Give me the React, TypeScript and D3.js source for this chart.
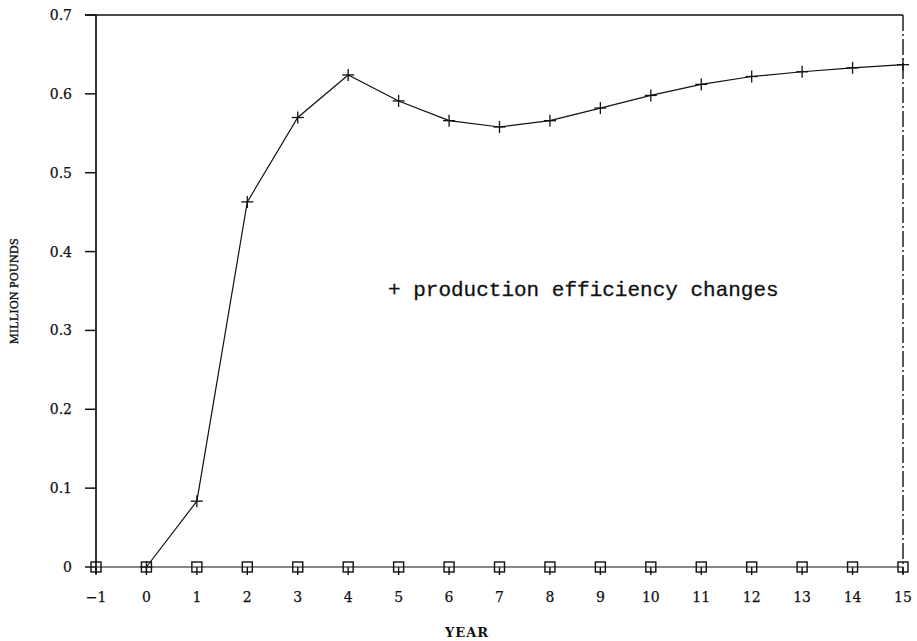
import React from "react";
import * as d3 from "d3";

const years = [-1, 0, 1, 2, 3, 4, 5, 6, 7, 8, 9, 10, 11, 12, 13, 14, 15];
const plusYears = [0, 1, 2, 3, 4, 5, 6, 7, 8, 9, 10, 11, 12, 13, 14, 15];
const plusValues = [0, 0.0835, 0.463, 0.57, 0.624, 0.591, 0.566, 0.558, 0.566, 0.582, 0.598, 0.612, 0.622, 0.628, 0.633, 0.637];
const squareValues = [0, 0, 0, 0, 0, 0, 0, 0, 0, 0, 0, 0, 0, 0, 0, 0, 0];
const yTicks = [0, 0.1, 0.2, 0.3, 0.4, 0.5, 0.6, 0.7];
const yTickLabels = ["0", "0.1", "0.2", "0.3", "0.4", "0.5", "0.6", "0.7"];
const legendText = "+ production efficiency changes";
const yTitle = "MILLION POUNDS";
const xTitle = "YEAR";

export default function App() {
  const W = 917, H = 641;
  const left = 96, right = 903, top = 15, bottom = 567;
  const x = d3.scaleLinear().domain([-1, 15]).range([left, right]);
  const y = d3.scaleLinear().domain([0, 0.7]).range([bottom, top]);
  const line = d3.line<number>().x((_, i) => x(plusYears[i])).y((d) => y(d));
  const sqLine = d3.line<number>().x((_, i) => x(years[i])).y((d) => y(d));
  const ink = "#111";
  return (
    <svg width={W} height={H} style={{ position: "absolute", left: 0, top: 0, background: "#fff" }}>
      <rect width={W} height={H} fill="#fff" />
      <line x1={left} x2={left} y1={top} y2={bottom + 7} stroke={ink} strokeWidth={1.7} />
      <line x1={left - 11} x2={right} y1={top} y2={top} stroke={ink} strokeWidth={1.5} />
      <line x1={right} x2={right} y1={top} y2={bottom + 7} stroke={ink} strokeWidth={1.4} strokeDasharray="16 3 2 3" />
      {yTicks.map((t, i) => (
        <g key={t}>
          <line x1={left - 11} x2={left} y1={y(t)} y2={y(t)} stroke={ink} strokeWidth={1.5} />
          <text x={left - 24} y={y(t) + 5} textAnchor="end" fontFamily="DejaVu Serif" fontSize={14} fill={ink} stroke={ink} strokeWidth={0.25}>{yTickLabels[i]}</text>
        </g>
      ))}
      {years.map((yr) => (
        <g key={yr}>
          <line x1={x(yr)} x2={x(yr)} y1={bottom} y2={bottom + 8} stroke={ink} strokeWidth={1.4} />
          <text x={x(yr)} y={bottom + 35} textAnchor="middle" fontFamily="DejaVu Serif" fontSize={14} fill={ink} stroke={ink} strokeWidth={0.25}>{yr < 0 ? "\u2212" + Math.abs(yr) : String(yr)}</text>
        </g>
      ))}
      <path d={sqLine(squareValues) || ""} fill="none" stroke={ink} strokeWidth={1.2} />
      {years.map((yr, i) => (
        <rect key={"s" + yr} x={x(yr) - 5} y={y(squareValues[i]) - 5} width={10} height={10} fill="none" stroke={ink} strokeWidth={1.4} />
      ))}
      <path d={line(plusValues) || ""} fill="none" stroke={ink} strokeWidth={1.2} />
      {plusYears.map((yr, i) => (
        <g key={"p" + yr} stroke={ink} strokeWidth={1.3}>
          <line x1={x(yr) - 6} x2={x(yr) + 6} y1={y(plusValues[i])} y2={y(plusValues[i])} />
          <line x1={x(yr)} x2={x(yr)} y1={y(plusValues[i]) - 6} y2={y(plusValues[i]) + 6} />
        </g>
      ))}
      <text x={388} y={296} fontFamily="Liberation Mono" fontSize={21} fill={ink} stroke={ink} strokeWidth={0.3}>{legendText}</text>
      <text transform={`translate(18, ${(top + bottom) / 2}) rotate(-90)`} textAnchor="middle" fontFamily="Liberation Serif" fontSize={12} fill={ink} stroke={ink} strokeWidth={0.35} letterSpacing={0.3}>{yTitle}</text>
      <text x={467} y={637} textAnchor="middle" fontFamily="DejaVu Serif" fontWeight="bold" fontSize={13} letterSpacing={1} fill={ink}>{xTitle}</text>
    </svg>
  );
}
